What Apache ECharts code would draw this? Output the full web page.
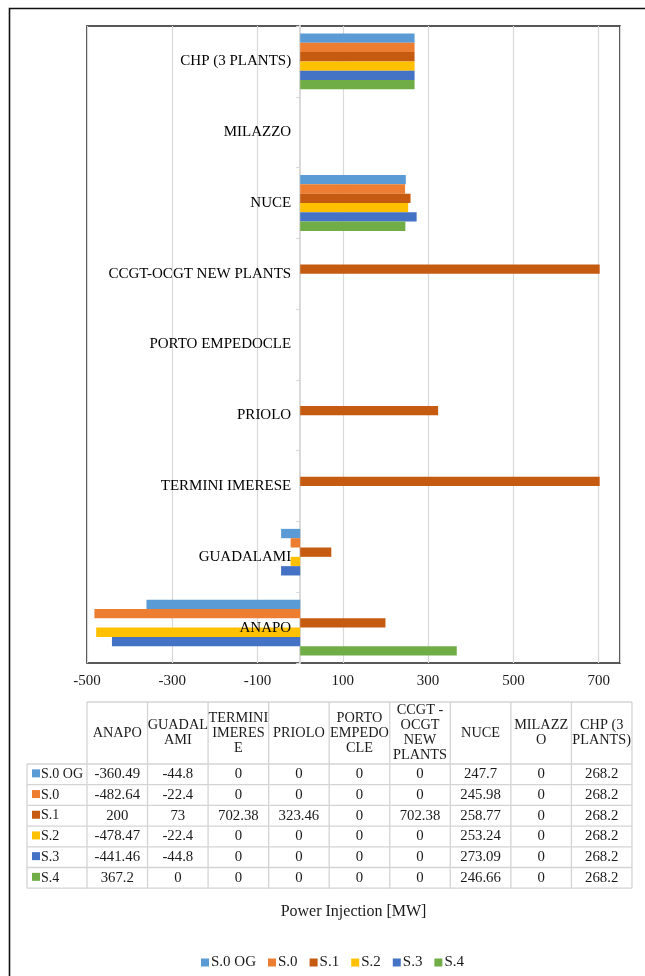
<!DOCTYPE html>
<html>
<head>
<meta charset="utf-8">
<title>Power Injection</title>
<script src="https://cdn.jsdelivr.net/npm/echarts@6/dist/echarts.min.js"></script>
<style>
  html, body { margin: 0; padding: 0; background: #fff; }
  #chart { width: 645px; height: 976px; }
</style>
</head>
<body>
<div id="chart"></div>
<script>
// Plants (bottom to top on the chart, left to right in the table)
const categories = ['ANAPO', 'GUADALAMI', 'TERMINI IMERESE', 'PRIOLO', 'PORTO EMPEDOCLE',
  'CCGT-OCGT NEW PLANTS', 'NUCE', 'MILAZZO', 'CHP (3 PLANTS)'];
// Table header labels, wrapped to the column width
const headerLabels = ['ANAPO', 'GUADAL\nAMI', 'TERMINI\nIMERES\nE', 'PRIOLO', 'PORTO\nEMPEDO\nCLE',
  'CCGT -\nOCGT\nNEW\nPLANTS', 'NUCE', 'MILAZZ\nO', 'CHP (3\nPLANTS)'];

// Scenario names and power injections [MW]
const seriesNames = ['S.0 OG', 'S.0', 'S.1', 'S.2', 'S.3', 'S.4'];
const s0og = [-360.49, -44.8, 0, 0, 0, 0, 247.7, 0, 268.2];
const s0   = [-482.64, -22.4, 0, 0, 0, 0, 245.98, 0, 268.2];
const s1   = [200, 73, 702.38, 323.46, 0, 702.38, 258.77, 0, 268.2];
const s2   = [-478.47, -22.4, 0, 0, 0, 0, 253.24, 0, 268.2];
const s3   = [-441.46, -44.8, 0, 0, 0, 0, 273.09, 0, 268.2];
const s4   = [367.2, 0, 0, 0, 0, 0, 246.66, 0, 268.2];
const seriesValues = [s0og, s0, s1, s2, s3, s4];

// Value axis range
const axisMin = -500;
const axisMax = 750;
const axisStep = 200;

const colors = ['#5B9BD5', '#ED7D31', '#C55A11', '#FFC000', '#4472C4', '#70AD47'];
const FONT = "'Liberation Serif', serif";
const INK = '#1a1a1a';

const chart = echarts.init(document.getElementById('chart'), null, { renderer: 'canvas' });

// ---- data table under the plot ----
const tbl = { keyLeft: 27, left: 87, colW: 60.55, headTop: 702, headBot: 764, rowH: 20.7 };
const gridLine = { stroke: '#d4d4d4', lineWidth: 1.3 };
const tableRight = tbl.left + tbl.colW * categories.length;
const tableBottom = tbl.headBot + tbl.rowH * seriesNames.length;
const graphics = [];

// outer frame
graphics.push({
  type: 'rect', silent: true,
  shape: { x: 9.5, y: 8.5, width: 700, height: 1000 },
  style: { fill: 'none', stroke: '#111', lineWidth: 1.6 }
});

// horizontal rules
graphics.push({ type: 'line', silent: true,
  shape: { x1: tbl.left, y1: tbl.headTop, x2: tableRight, y2: tbl.headTop }, style: gridLine });
for (let r = 0; r <= seriesNames.length; r++) {
  const y = tbl.headBot + r * tbl.rowH;
  graphics.push({ type: 'line', silent: true,
    shape: { x1: tbl.keyLeft, y1: y, x2: tableRight, y2: y }, style: gridLine });
}
// vertical rules
graphics.push({ type: 'line', silent: true,
  shape: { x1: tbl.keyLeft, y1: tbl.headBot, x2: tbl.keyLeft, y2: tableBottom }, style: gridLine });
for (let c = 0; c <= categories.length; c++) {
  const x = tbl.left + c * tbl.colW;
  graphics.push({ type: 'line', silent: true,
    shape: { x1: x, y1: tbl.headTop, x2: x, y2: tableBottom }, style: gridLine });
}
// header labels
headerLabels.forEach((lab, c) => {
  graphics.push({ type: 'text', silent: true,
    style: { text: lab, x: tbl.left + (c + 0.5) * tbl.colW, y: (tbl.headTop + tbl.headBot) / 2,
      align: 'center', verticalAlign: 'middle', lineHeight: 15,
      fontSize: 14.3, fontFamily: FONT, fill: INK } });
});
// rows: key, name and values
seriesNames.forEach((name, r) => {
  const cy = tbl.headBot + (r + 0.5) * tbl.rowH;
  graphics.push({ type: 'rect', silent: true,
    shape: { x: 32, y: cy - 5, width: 8, height: 8 }, style: { fill: colors[r] } });
  graphics.push({ type: 'text', silent: true,
    style: { text: name, x: 41, y: cy, align: 'left', verticalAlign: 'middle',
      fontSize: 14, fontFamily: FONT, fill: INK } });
  seriesValues[r].forEach((v, c) => {
    graphics.push({ type: 'text', silent: true,
      style: { text: String(v), x: tbl.left + (c + 0.5) * tbl.colW, y: cy,
        align: 'center', verticalAlign: 'middle',
        fontSize: 14.8, fontFamily: FONT, fill: INK } });
  });
});

// Series that sets each plant name just left of the zero line
const nameLabels = {
  name: 'plant names',
  type: 'scatter',
  symbolSize: 0,
  silent: true,
  z: 5,
  itemStyle: { opacity: 1 },
  data: categories.map(c => [0, c]),
  label: {
    show: true, position: 'left', distance: 9,
    formatter: p => p.value[1],
    fontSize: 15, fontFamily: FONT, color: '#000', opacity: 1
  }
};

const option = {
  animation: false,
  backgroundColor: '#fff',
  color: colors,
  textStyle: { fontFamily: FONT },
  grid: {
    left: 87, top: 26, right: 25, bottom: 313,
    containLabel: false, outerBoundsMode: 'none',
    show: true, borderColor: '#222', borderWidth: 1.6, backgroundColor: 'transparent'
  },
  legend: {
    data: seriesNames,
    left: 196, top: 950,
    icon: 'rect', itemWidth: 8, itemHeight: 8, itemGap: 12,
    textStyle: { fontSize: 15, fontFamily: FONT, color: INK, padding: [0, 0, 0, -3] }
  },
  xAxis: {
    type: 'value',
    min: axisMin, max: axisMax, interval: axisStep,
    name: 'Power Injection [MW]',
    nameLocation: 'middle',
    nameGap: 249,
    nameTextStyle: { fontSize: 16, fontFamily: FONT, color: INK, verticalAlign: 'middle' },
    axisLine: { show: false },
    axisTick: { show: false },
    axisLabel: { fontSize: 15, fontFamily: FONT, color: INK, margin: 11, showMaxLabel: false },
    splitLine: { show: true, lineStyle: { color: '#d9d9d9', width: 1.2 } }
  },
  yAxis: {
    type: 'category',
    data: categories,
    axisLine: { onZero: true, lineStyle: { color: '#d9d9d9', width: 2 } },
    axisTick: { show: true, length: 4, lineStyle: { color: '#d9d9d9', width: 1.2 } },
    axisLabel: { show: false },
    splitLine: { show: false }
  },
  series: seriesNames.map((name, i) => ({
    name: name,
    type: 'bar',
    data: seriesValues[i],
    barGap: '0%',
    barCategoryGap: '21%',
    itemStyle: { color: colors[i] }
  })).concat([nameLabels]),
  graphic: graphics
};

chart.setOption(option);
</script>
</body>
</html>
